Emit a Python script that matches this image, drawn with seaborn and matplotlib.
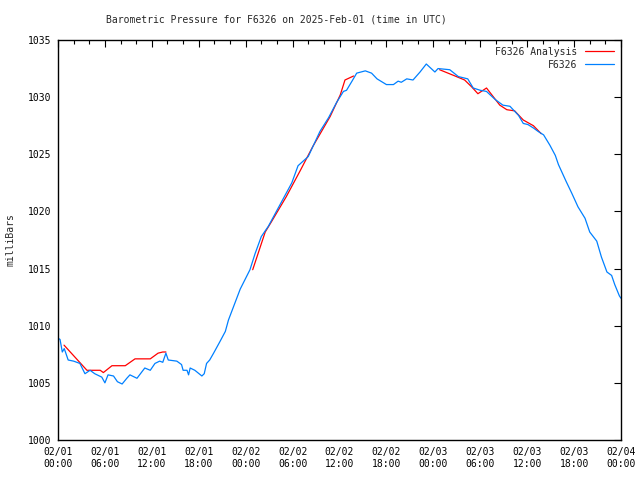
import matplotlib
matplotlib.use("Agg")
import matplotlib.pyplot as plt
import matplotlib.dates as mdates
import seaborn as sns
import pandas as pd

# hours since 2025-02-01 00:00 UTC, pressure in mb
obs_hours = [0.0, 0.26, 0.55, 0.8, 1.3, 2.0, 2.8, 3.45, 4.1, 4.7, 5.6, 6.0, 6.4, 7.1, 7.3,
             7.6, 8.2, 8.8, 9.2, 10.1, 11.1, 11.8, 12.4, 13.0, 13.4, 13.8, 14.1, 15.2,
             15.8, 16.0, 16.5, 16.7, 16.9, 17.5, 18.4, 18.7, 19.0, 19.4, 19.9, 20.7,
             21.4, 21.8, 23.3, 24.55, 25.2, 26.0, 26.9, 28.4, 29.9, 30.7, 32.0, 33.5,
             34.6, 35.6, 36.5, 36.9, 37.6, 38.2, 39.3, 40.1, 40.8, 42.0, 42.9, 43.5,
             43.9, 44.6, 45.4, 46.3, 47.1, 48.2, 48.6, 50.1, 51.2, 52.4, 53.1, 54.0,
             54.8, 55.9, 56.9, 57.8, 58.9, 59.5, 60.1, 60.8, 61.4, 62.1, 62.9, 63.6,
             64.0, 65.0, 65.7, 66.5, 67.4, 68.0, 68.9, 69.5, 70.2, 70.8, 71.2, 71.8, 72.0]
obs_mb = [1008.9, 1008.8, 1007.7, 1008.0, 1007.0, 1006.9, 1006.7, 1005.8, 1006.1, 1005.8,
          1005.5, 1005.0, 1005.7, 1005.6, 1005.4, 1005.1, 1004.9, 1005.4, 1005.7, 1005.4,
          1006.3, 1006.1, 1006.7, 1006.9, 1006.8, 1007.6, 1007.0, 1006.9, 1006.6, 1006.1,
          1006.1, 1005.7, 1006.3, 1006.1, 1005.6, 1005.8, 1006.7, 1007.0, 1007.6, 1008.6,
          1009.5, 1010.5, 1013.2, 1014.9, 1016.3, 1017.8, 1018.7, 1020.6, 1022.5, 1024.0,
          1024.8, 1027.0, 1028.2, 1029.5, 1030.5, 1030.6, 1031.4, 1032.1, 1032.3, 1032.1,
          1031.6, 1031.1, 1031.1, 1031.4, 1031.3, 1031.6, 1031.5, 1032.2, 1032.9, 1032.2,
          1032.5, 1032.4, 1031.8, 1031.6, 1030.8, 1030.6, 1030.5, 1029.8, 1029.3, 1029.2,
          1028.4, 1027.7, 1027.6, 1027.3, 1027.0, 1026.7, 1025.8, 1024.9, 1024.1, 1022.6,
          1021.6, 1020.4, 1019.4, 1018.2, 1017.4, 1016.0, 1014.7, 1014.4, 1013.6, 1012.6,
          1012.4]

# analysis comes in three separate pieces
ana_hours = [[0.77, 3.7, 5.4, 5.8, 6.9, 8.6, 9.85, 11.8, 12.8, 13.4, 13.8],
             [24.9, 26.5, 27.3, 29.2, 31.0, 32.6, 34.8, 36.1, 36.7, 37.8],
             [48.8, 50.6, 52.0, 52.9, 53.7, 54.8, 56.5, 57.4, 58.4, 59.5, 60.8, 61.8]]
ana_mb = [[1008.3, 1006.1, 1006.1, 1005.9, 1006.5, 1006.5, 1007.1, 1007.1, 1007.6, 1007.7, 1007.7],
          [1014.9, 1018.2, 1019.1, 1021.3, 1023.6, 1025.7, 1028.3, 1030.2, 1031.5, 1031.85],
          [1032.4, 1031.9, 1031.5, 1030.9, 1030.3, 1030.8, 1029.3, 1028.9, 1028.8, 1028.0, 1027.5, 1026.8]]

start = pd.Timestamp("2025-02-01 00:00")

rows = []
for h, v in zip(obs_hours, obs_mb):
    rows.append({"time": start + pd.Timedelta(hours=h), "mb": v, "series": "F6326", "seg": 0})
for i, (hs, vs) in enumerate(zip(ana_hours, ana_mb)):
    for h, v in zip(hs, vs):
        rows.append({"time": start + pd.Timedelta(hours=h), "mb": v,
                     "series": "F6326 Analysis", "seg": i + 1})
df = pd.DataFrame(rows)

sns.set_style("white")
plt.rcParams["font.family"] = ["DejaVu Sans Mono"]
fs = 7

fig = plt.figure(figsize=(6.4, 4.8), dpi=100)
ax = fig.add_axes([58 / 640, 40 / 480, 563 / 640, 400 / 480])

sns.lineplot(data=df, x="time", y="mb", hue="series", units="seg", estimator=None,
             sort=False, hue_order=["F6326 Analysis", "F6326"],
             palette={"F6326 Analysis": "#ff0000", "F6326": "#0080ff"},
             linewidth=0.9, ax=ax)

ax.set_xlim(start, start + pd.Timedelta(hours=72))
ax.set_ylim(1000, 1035)
ax.set_yticks(range(1000, 1036, 5))
ax.xaxis.set_major_locator(mdates.HourLocator(byhour=[0, 6, 12, 18]))
ax.xaxis.set_minor_locator(mdates.HourLocator(interval=2))
ax.xaxis.set_major_formatter(mdates.DateFormatter("%m/%d\n%H:%M"))
ax.tick_params(which="both", direction="in", top=True, right=True, colors="black",
               labelsize=fs, pad=5)
ax.tick_params(which="major", length=5, width=0.8)
ax.tick_params(which="minor", length=3, width=0.8)
for s in ax.spines.values():
    s.set_color("black")
    s.set_linewidth(1.0)

ax.set_xlabel("")
ax.set_ylabel("milliBars", fontsize=fs, labelpad=9)
fig.text(276 / 640, 1 - 19 / 480, "Barometric Pressure for F6326 on 2025-Feb-01 (time in UTC)",
         ha="center", va="center", fontsize=fs)

leg = ax.legend(loc="upper right", frameon=False, markerfirst=False, fontsize=fs,
                handlelength=3.0, handletextpad=0.8, borderaxespad=0.3, labelspacing=0.3)

fig.savefig("out.png", dpi=100)
